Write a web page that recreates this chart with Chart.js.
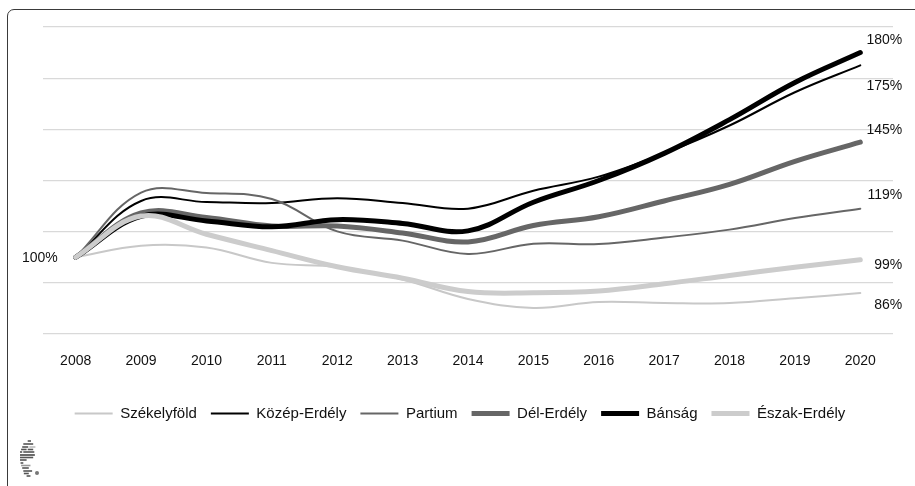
<!DOCTYPE html>
<html>
<head>
<meta charset="utf-8">
<script src="https://cdn.jsdelivr.net/npm/chart.js@4.4.1/dist/chart.umd.min.js"></script>
<style>
  html, body { margin: 0; padding: 0; background: #fff; }
  #wrap { position: relative; width: 915px; height: 486px; overflow: hidden; }
  #frame { position: absolute; left: 7px; top: 9px; width: 960px; height: 520px; border: 1.5px solid #3a3a3a; border-radius: 7px; box-sizing: border-box; }
  #chart { position: absolute; left: 0; top: 0; }
  #logo { position: absolute; left: 0; top: 0; }
</style>
</head>
<body>
<div id="wrap">
  <div id="frame"></div>
  <canvas id="chart" width="915" height="486"></canvas>
  <svg id="logo" width="915" height="486">
    <g stroke-width="1.6" transform="translate(20 0) scale(0.55 1) translate(-26 0)">
      <line x1="40" y1="441" x2="46" y2="441" stroke="#555"/>
      <line x1="32" y1="444" x2="50" y2="444" stroke="#555"/>
      <line x1="30" y1="447" x2="41" y2="447" stroke="#555"/>
      <line x1="43" y1="447" x2="54" y2="447" stroke="#bbb"/>
      <line x1="28" y1="449.5" x2="38" y2="449.5" stroke="#555"/>
      <line x1="40" y1="449.5" x2="50" y2="449.5" stroke="#555"/>
      <line x1="26" y1="452" x2="30" y2="452" stroke="#555"/>
      <line x1="32" y1="452" x2="52" y2="452" stroke="#555"/>
      <line x1="26" y1="455" x2="53" y2="455" stroke="#444"/>
      <line x1="26" y1="457.5" x2="50" y2="457.5" stroke="#555"/>
      <line x1="26" y1="460" x2="38" y2="460" stroke="#555"/>
      <line x1="27" y1="463" x2="32" y2="463" stroke="#555"/>
      <line x1="28" y1="465.5" x2="45" y2="465.5" stroke="#999"/>
      <line x1="30" y1="468" x2="42" y2="468" stroke="#555"/>
      <line x1="32" y1="471" x2="48" y2="471" stroke="#555"/>
      <line x1="33" y1="473.5" x2="42" y2="473.5" stroke="#555"/>
      <line x1="38" y1="476" x2="45" y2="476" stroke="#555"/>
    </g>
    <circle cx="37" cy="473" r="2" fill="#777"/>
  </svg>
</div>
<script>
// ---- Data ----
const years = ['2008', '2009', '2010', '2011', '2012', '2013', '2014', '2015', '2016', '2017', '2018', '2019', '2020'];

const szekelyfold = [100, 104.5, 103.8, 97.8, 96.2, 91.3, 83.7, 80.2, 82.5, 82.1, 82.1, 84, 86];
const kozepErdely = [100, 122, 121.6, 121.2, 123.1, 121.2, 119, 126, 131.5, 140.6, 151.5, 164.5, 175];
const partium = [100, 125.3, 125.1, 122.8, 110.1, 106.5, 101.3, 105.3, 105.2, 107.7, 110.8, 115.3, 119];
const delErdely = [100, 117.3, 115.5, 112.2, 112.2, 109.5, 106, 112.4, 115.8, 122, 128.5, 137.5, 145];
const bansag = [100, 116, 114.2, 111.9, 114.7, 113.2, 110.3, 121.5, 130, 140.6, 153.8, 168.3, 180];
const eszakErdely = [100, 116.1, 109, 102.6, 96.3, 91.8, 86.6, 86.1, 86.8, 89.6, 92.9, 96.1, 99];

const seriesNames = ['Székelyföld', 'Közép-Erdély', 'Partium', 'Dél-Erdély', 'Bánság', 'Észak-Erdély'];
const endLabels = ['86%', '175%', '119%', '145%', '180%', '99%'];
const startLabel = '100%';

// ---- Styling ----
const FONT = "'Liberation Sans', Arial, sans-serif";
const colors = ['#c8c8c8', '#000000', '#666666', '#666666', '#000000', '#cccccc'];
const widths = [2, 2, 2, 5, 5, 5];
// vertical nudge of each end label against its last point
const endLabelDy = [12, 21, -14, -12, -12, 5];

const seriesData = [szekelyfold, kozepErdely, partium, delErdely, bansag, eszakErdely];

const datasets = seriesData.map((d, i) => ({
  label: seriesNames[i],
  data: d,
  borderColor: colors[i],
  backgroundColor: colors[i],
  borderWidth: widths[i],
  pointRadius: 0,
  pointHoverRadius: 0,
  tension: 0.38,
  fill: false,
  borderCapStyle: 'round',
  borderJoinStyle: 'round',
  order: seriesData.length - i
}));

const valueLabels = {
  id: 'valueLabels',
  afterLayout(chart) {
    // legend sits a little left of the plot centre in the original
    if (chart.legend) chart.legend.left -= 16;
  },
  afterDatasetsDraw(chart) {
    const ctx = chart.ctx;
    ctx.save();
    ctx.font = '14px ' + FONT;
    ctx.fillStyle = '#111';
    ctx.textBaseline = 'middle';
    ctx.textAlign = 'right';
    chart.data.datasets.forEach((ds, i) => {
      const meta = chart.getDatasetMeta(i);
      const pt = meta.data[meta.data.length - 1];
      ctx.fillText(endLabels[i], pt.x + 42, pt.y + endLabelDy[i]);
    });
    const first = chart.getDatasetMeta(0).data[0];
    ctx.fillText(startLabel, first.x - 18, first.y + 1);
    ctx.restore();
  }
};

new Chart(document.getElementById('chart'), {
  type: 'line',
  data: { labels: years, datasets },
  options: {
    responsive: false,
    animation: false,
    layout: { padding: { left: 43, right: 22, top: 27, bottom: 55 } },
    plugins: {
      tooltip: { enabled: false },
      legend: {
        position: 'bottom',
        labels: {
          usePointStyle: true,
          pointStyle: 'line',
          pointStyleWidth: 38,
          padding: 14,
          color: '#111',
          font: { family: FONT, size: 15 },
          sort: (a, b) => a.datasetIndex - b.datasetIndex
        }
      }
    },
    scales: {
      x: {
        offset: true,
        grid: { display: false },
        border: { display: false },
        ticks: { color: '#111', font: { family: FONT, size: 14 }, padding: 11, maxRotation: 0, autoSkip: false },
        afterFit: s => { s.height = 58; }
      },
      y: {
        min: 70,
        max: 190,
        ticks: { stepSize: 20, display: false },
        grid: { color: '#d9d9d9', lineWidth: 1.3, drawTicks: false },
        border: { display: false }
      }
    }
  },
  plugins: [valueLabels]
});
</script>
</body>
</html>
